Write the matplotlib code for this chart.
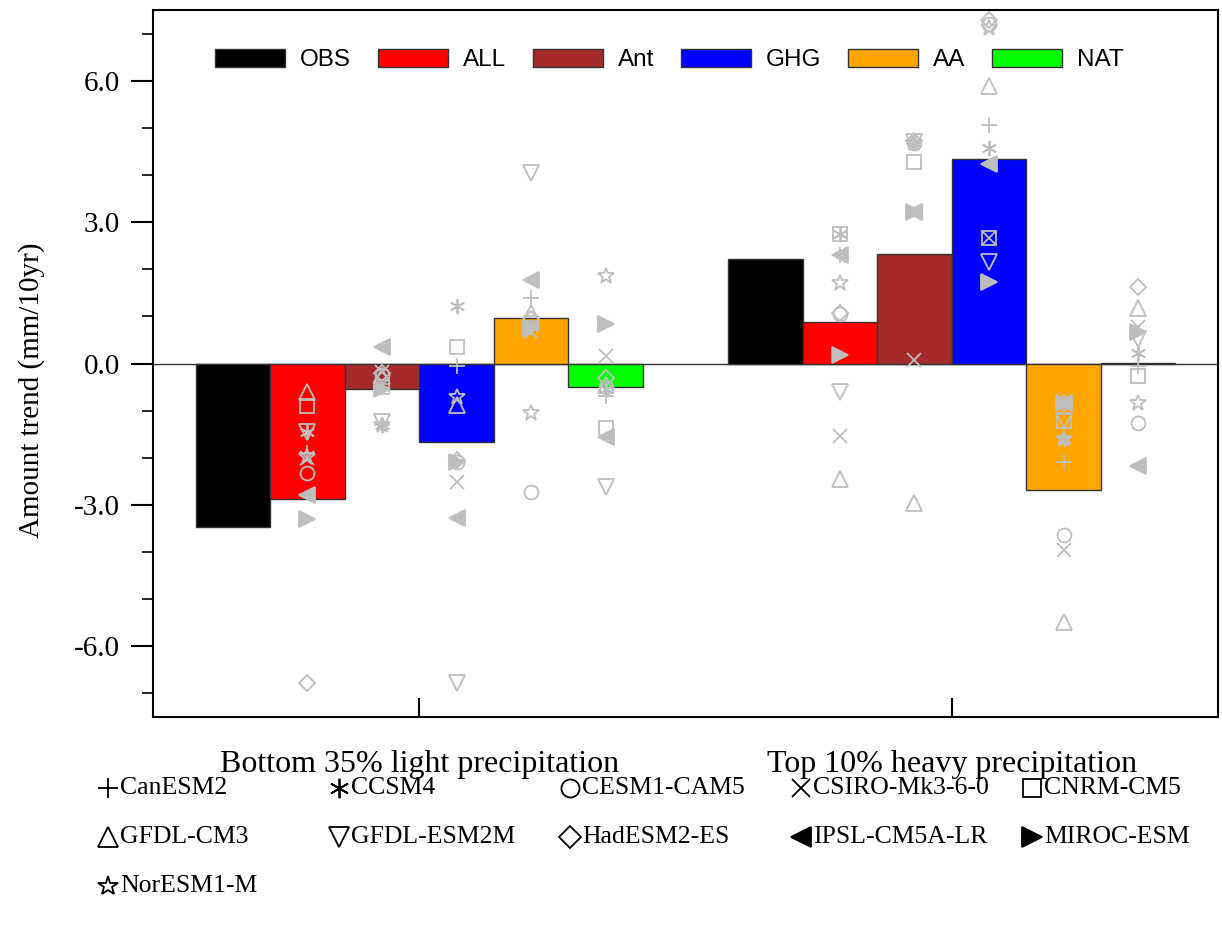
import matplotlib
matplotlib.use("Agg")
import matplotlib.pyplot as plt
from matplotlib.lines import Line2D
import numpy as np

groups = ["Bottom 35% light precipitation", "Top 10% heavy precipitation"]
experiments = ["OBS", "ALL", "Ant", "GHG", "AA", "NAT"]
bar_colors = ["#000000", "#FF0000", "#A52A2A", "#0000FF", "#FFA500", "#00FF00"]

# bar values: [light, heavy] for each experiment
obs_vals = [-3.47, 2.22]
all_vals = [-2.88, 0.87]
ant_vals = [-0.55, 2.33]
ghg_vals = [-1.67, 4.34]
aa_vals = [0.97, -2.69]
nat_vals = [-0.49, 0.02]
bar_values = [obs_vals, all_vals, ant_vals, ghg_vals, aa_vals, nat_vals]

# model values: light ALL, Ant, GHG, AA, NAT, heavy ALL, Ant, GHG, AA, NAT
models = ["CanESM2", "CCSM4", "CESM1-CAM5", "CSIRO-Mk3-6-0", "CNRM-CM5",
          "GFDL-CM3", "GFDL-ESM2M", "HadESM2-ES", "IPSL-CM5A-LR", "MIROC-ESM",
          "NorESM1-M"]
canesm2 = [-1.90, -1.30, -0.06, 1.40, -0.70, 2.31, 4.72, 5.06, -2.10, -0.06]
ccsm4 = [-1.46, -1.30, 1.21, 0.78, -0.55, 2.75, 4.70, 4.58, -1.61, 0.23]
cesm1 = [-2.33, -0.25, -2.08, -2.73, -0.50, 1.04, 4.68, 7.20, -3.64, -1.27]
csiro = [-2.00, -0.17, -2.52, 0.66, 0.15, -1.53, 0.08, 2.67, -3.96, 0.78]
cnrm = [-0.91, -0.50, 0.34, 0.85, -1.36, 2.75, 4.28, 2.67, -1.22, -0.27]
gfdl_cm3 = [-0.61, -0.27, -0.87, 1.08, -0.45, -2.46, -2.95, 5.89, -5.49, 1.17]
gfdl_esm2m = [-1.46, -1.25, -6.78, 4.05, -2.63, -0.61, 4.70, 2.16, -1.22, 0.51]
hadesm2 = [-6.78, -0.20, -2.05, 0.95, -0.30, 1.08, 4.72, 7.29, -0.83, 1.63]
ipsl = [-2.78, 0.34, -3.28, 1.78, -1.55, 2.31, 3.22, 4.24, -0.83, -2.18]
miroc = [-3.30, -0.55, -2.10, 0.75, 0.83, 0.19, 3.22, 1.72, -0.83, 0.66]
noresm = [-1.98, -1.30, -0.72, -1.06, 1.86, 1.71, 4.68, 7.12, -1.60, -0.83]
model_values = [canesm2, ccsm4, cesm1, csiro, cnrm, gfdl_cm3, gfdl_esm2m,
                hadesm2, ipsl, miroc, noresm]

# marker style per model: (marker, filled)
model_markers = [("+", False), ((6, 2, 0), False), ("o", False), ("x", False),
                 ("s", False), ("^", False), ("v", False), ("D", False),
                 ("<", True), (">", True), ("*", False)]
model_msize = [11, 11, 10, 10, 10, 11, 11, 8, 11, 11, 12]

serif = "Liberation Serif"
sans = "Liberation Sans"
grey = "#BEBEBE"

fig = plt.figure(figsize=(12.22, 9.26), dpi=100)
ax = fig.add_axes([153 / 1222, 1 - 717 / 926, (1218 - 153) / 1222, (717 - 10) / 926])

width = 0.14
gx = np.arange(1, len(groups) + 1)
offsets = (np.arange(len(experiments)) - 2.5) * width

ax.axhline(0, color="#333333", lw=1.0, zorder=1)
for i, (exp, col) in enumerate(zip(experiments, bar_colors)):
    ax.bar(gx + offsets[i], bar_values[i], width=width, color=col,
           edgecolor="#333333", linewidth=1.0, label=exp, zorder=2)

# model markers over experiment bars (ALL..NAT)
xs = np.concatenate([gx[0] + offsets[1:], gx[1] + offsets[1:]])
for vals, (mk, filled), ms in zip(model_values, model_markers, model_msize):
    ax.plot(xs, vals, linestyle="none", marker=mk, markersize=ms,
            markeredgecolor=grey, markerfacecolor=grey if filled else "none",
            markeredgewidth=1.3, zorder=3)

ax.set_xlim(0.5, 2.5)
ax.set_ylim(-7.5, 7.5)
ax.set_yticks([-6, -3, 0, 3, 6])
ax.set_yticklabels(["-6.0", "-3.0", "0.0", "3.0", "6.0"], fontfamily=serif, fontsize=21)
ax.set_yticks(np.arange(-7, 8, 1), minor=True)
ax.tick_params(axis="y", which="major", direction="out", length=16, width=1.5, pad=8)
ax.tick_params(axis="y", which="minor", direction="out", length=8, width=1.2)
ax.set_xticks(gx)
ax.set_xticklabels(groups, fontfamily=serif, fontsize=23)
ax.tick_params(axis="x", which="major", direction="in", length=14, width=1.5, pad=24)
for s in ax.spines.values():
    s.set_linewidth(1.5)

ax.set_ylabel("Amount trend (mm/10yr)", fontfamily=serif, fontsize=21)
ax.yaxis.set_label_coords(-0.1014, 0.4625)

leg = ax.legend(ncol=6, loc="center", bbox_to_anchor=(0.485, 0.929), frameon=False,
                prop={"family": sans, "size": 17.5}, handlelength=2.88, handleheight=0.74,
                handletextpad=0.62, columnspacing=1.1)

# model symbol legend below the axes
for i, (name, (mk, filled), ms) in enumerate(zip(models, model_markers, model_msize)):
    row, col = divmod(i, 5)
    xc = (108 + 231 * col) / 1222
    yc = 1 - (788 + 49 * row) / 926
    fig.add_artist(Line2D([xc], [yc], transform=fig.transFigure, linestyle="none",
                          marker=mk, markersize=ms + 3, markeredgecolor="black",
                          markerfacecolor="black" if filled else "none",
                          markeredgewidth=1.3))
    fig.text(xc + 12 / 1222, yc, name, fontfamily=serif, fontsize=18.5,
             ha="left", va="center")

fig.savefig("out.png", dpi=100)
